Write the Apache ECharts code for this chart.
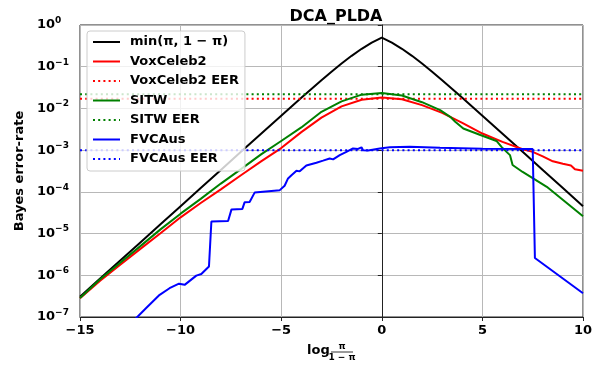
<!DOCTYPE html>
<html>
<head>
<meta charset="utf-8">
<script src="https://cdn.jsdelivr.net/npm/echarts@6/dist/echarts.min.js"></script>
<style>
html,body{margin:0;padding:0;background:#fff;}
#chart{width:598px;height:373px;}
</style>
</head>
<body>
<div id="chart"></div>
<script>
// ---- data ----
const titleText = 'DCA_PLDA';
const yAxisName = 'Bayes error-rate';
const xTickValues = [-15, -10, -5, 0, 5, 10];
const yTickExponents = [0, -1, -2, -3, -4, -5, -6, -7];

const seriesNames = ['min(π, 1 − π)', 'VoxCeleb2', 'VoxCeleb2 EER', 'SITW', 'SITW EER', 'FVCAus', 'FVCAus EER'];

const minX = [-15, -14, -13, -12, -11, -10, -9, -8, -7, -6, -5, -4, -3.5, -3, -2.5, -2, -1.5, -1, -0.5, 0, 0.5, 1, 1.5, 2, 2.5, 3, 3.5, 4, 5, 6, 7, 8, 9, 10];
const minY = [3.06e-7, 8.32e-7, 2.26e-6, 6.14e-6, 1.67e-5, 4.54e-5, 1.234e-4, 3.354e-4, 9.11e-4, 2.473e-3, 6.693e-3, 1.799e-2, 2.931e-2, 4.743e-2, 7.586e-2, 0.1192, 0.1824, 0.2689, 0.3775, 0.5, 0.3775, 0.2689, 0.1824, 0.1192, 7.586e-2, 4.743e-2, 2.931e-2, 1.799e-2, 6.693e-3, 2.473e-3, 9.11e-4, 3.354e-4, 1.234e-4, 4.54e-5];

const voxX = [-15, -14, -13, -12, -11, -10, -9, -8, -7, -6, -5, -4, -3, -2, -1, 0, 1, 2, 3, 4, 5, 6, 7, 7.5, 8, 8.5, 9, 9.4, 9.6, 10];
const voxY = [2.8e-7, 7.4e-7, 1.78e-6, 4.3e-6, 1.02e-5, 2.45e-5, 5.4e-5, 1.15e-4, 2.5e-4, 5.4e-4, 1.12e-3, 2.7e-3, 6.0e-3, 1.12e-2, 1.62e-2, 1.82e-2, 1.66e-2, 1.2e-2, 7.8e-3, 4.5e-3, 2.5e-3, 1.58e-3, 1.05e-3, 9.1e-4, 7.1e-4, 5.4e-4, 4.7e-4, 4.3e-4, 3.5e-4, 3.2e-4];

const sitwX = [-15, -14, -13, -12, -11, -10, -9, -8, -7, -6, -5, -4, -3, -2, -1, 0, 1, 2, 2.9, 3.4, 3.65, 4.05, 4.9, 5.7, 5.95, 6.2, 6.37, 6.5, 7.0, 8.2, 10];
const sitwY = [2.85e-7, 8.0e-7, 2.0e-6, 5.0e-6, 1.26e-5, 3.0e-5, 6.8e-5, 1.58e-4, 3.5e-4, 7.9e-4, 1.66e-3, 3.5e-3, 8.3e-3, 1.48e-2, 2.14e-2, 2.34e-2, 2.04e-2, 1.41e-2, 9.1e-3, 6.3e-3, 4.8e-3, 3.3e-3, 2.3e-3, 1.66e-3, 1.2e-3, 9.1e-4, 7.6e-4, 4.4e-4, 3.0e-4, 1.32e-4, 2.6e-5];

const fvcX = [-12.3, -11.71, -11.04, -10.55, -10.08, -9.80, -9.22, -8.97, -8.59, -8.47, -7.64, -7.47, -6.93, -6.82, -6.57, -6.32, -5.07, -4.83, -4.66, -4.49, -4.24, -4.08, -3.75, -3.25, -2.92, -2.59, -2.42, -2.09, -1.76, -1.43, -1.18, -1.01, -0.93, -0.85, -0.68, -0.10, 0.40, 1.39, 2.89, 5.0, 7.50, 7.61, 10.0];
const fvcY = [8.5e-8, 1.64e-7, 3.4e-7, 4.9e-7, 6.3e-7, 5.9e-7, 9.8e-7, 1.07e-6, 1.62e-6, 1.95e-5, 2.0e-5, 3.8e-5, 3.9e-5, 5.6e-5, 5.7e-5, 9.6e-5, 1.1e-4, 1.4e-4, 2.1e-4, 2.5e-4, 3.2e-4, 3.1e-4, 4.3e-4, 5.0e-4, 5.6e-4, 6.3e-4, 6.0e-4, 7.6e-4, 9.1e-4, 1.1e-3, 1.07e-3, 1.17e-3, 1.0e-3, 9.2e-4, 9.8e-4, 1.1e-3, 1.18e-3, 1.2e-3, 1.14e-3, 1.08e-3, 1.06e-3, 2.6e-6, 3.7e-7];

const eerX = [-15, 10];
const voxEER = 1.7e-2;
const sitwEER = 2.2e-2;
const fvcEER = 1.0e-3;

// ---- build ----
const zip = (xs, ys) => xs.map((x, i) => [x, ys[i]]);
const flat = (xs, v) => xs.map(x => [x, v]);
const FONT = 'DejaVu Sans';

function lineSeries(name, data, color, dotted) {
  return {
    name: name, type: 'line', data: data, showSymbol: false, symbol: 'none',
    clip: true, animation: false,
    lineStyle: { color: color, width: 2, type: dotted ? [2, 3.2] : 'solid', cap: 'butt' },
    itemStyle: { color: color },
    emphasis: { disabled: true }
  };
}

const chart = echarts.init(document.getElementById('chart'), null, { renderer: 'canvas' });
const minus = s => String(s).replace('-', '\u2212');

chart.setOption({
  animation: false,
  backgroundColor: '#ffffff',
  textStyle: { fontFamily: FONT },
  title: {
    text: titleText, left: 331, top: 3, textAlign: 'center',
    textStyle: { fontFamily: FONT, fontSize: 16, fontWeight: 'bold', color: '#000', lineHeight: 18 }
  },
  grid: { left: 80, right: 15, top: 25, bottom: 56, show: true, borderColor: '#222', borderWidth: 1, backgroundColor: 'transparent' },
  xAxis: {
    type: 'value', min: -15, max: 10, interval: 5,
    axisLine: { show: true, onZero: false, lineStyle: { color: '#222', width: 1 } },
    axisTick: { show: true, inside: false, length: 4, lineStyle: { color: '#222' } },
    axisLabel: {
      margin: 7, fontFamily: FONT, fontSize: 13, fontWeight: 'bold', color: '#000',
      formatter: v => xTickValues.includes(v) ? minus(v) : ''
    },
    splitLine: { show: true, lineStyle: { color: '#b8b8b8', width: 1 } }
  },
  yAxis: {
    type: 'log', logBase: 10, min: 1e-7, max: 1,
    name: yAxisName, nameLocation: 'middle', nameGap: 42, nameRotate: 90,
    nameTextStyle: { fontFamily: FONT, fontSize: 13, fontWeight: 'bold', color: '#000' },
    axisLine: { show: true, lineStyle: { color: '#222', width: 1 } },
    axisTick: { show: true, inside: false, length: 4, lineStyle: { color: '#222' } },
    axisLabel: {
      margin: 43, align: 'left', color: '#000',
      formatter: v => {
        const e = Math.round(Math.log10(v));
        if (!yTickExponents.includes(e)) return '';
        return '{b|10}{s|' + minus(e) + '}';
      },
      rich: {
        b: { fontFamily: FONT, fontSize: 13, fontWeight: 'bold', color: '#000', lineHeight: 18 },
        s: { fontFamily: FONT, fontSize: 9, fontWeight: 'bold', color: '#000', lineHeight: 10, verticalAlign: 'top' }
      }
    },
    splitLine: { show: true, lineStyle: { color: '#b8b8b8', width: 1 } }
  },
  legend: {
    show: true, orient: 'vertical', left: 87, top: 31,
    padding: [4, 6, 5, 5], itemWidth: 27, itemHeight: 14, itemGap: 5.5,
    backgroundColor: 'rgba(255,255,255,0.8)', borderColor: '#cccccc', borderWidth: 1, borderRadius: 3,
    textStyle: { fontFamily: FONT, fontSize: 13, fontWeight: 'bold', color: '#000', lineHeight: 14, padding: [0, 0, 0, 5] },
    itemStyle: { color: 'transparent', borderColor: 'transparent', borderWidth: 0, opacity: 0 },
    selectedMode: false,
    data: seriesNames
  },
  graphic: [
    { type: 'text', left: 307, top: 344, style: { text: 'log', font: 'bold 13px "DejaVu Sans"', fill: '#000' } },
    { type: 'text', x: 342, y: 347, style: { text: 'π', font: 'bold 9px "DejaVu Sans"', fill: '#000', align: 'center', verticalAlign: 'middle' } },
    { type: 'line', shape: { x1: 331, y1: 352, x2: 353, y2: 352 }, style: { stroke: '#000', lineWidth: 0.8 } },
    { type: 'text', x: 342, y: 358, style: { text: '1 − π', font: 'bold 9px "DejaVu Sans"', fill: '#000', align: 'center', verticalAlign: 'middle' } }
  ],
  series: [
    lineSeries(seriesNames[0], zip(minX, minY), '#000000', false),
    lineSeries(seriesNames[1], zip(voxX, voxY), '#ff0000', false),
    lineSeries(seriesNames[2], flat(eerX, voxEER), '#ff0000', true),
    lineSeries(seriesNames[3], zip(sitwX, sitwY), '#008000', false),
    lineSeries(seriesNames[4], flat(eerX, sitwEER), '#008000', true),
    lineSeries(seriesNames[5], zip(fvcX, fvcY), '#0000ff', false),
    lineSeries(seriesNames[6], flat(eerX, fvcEER), '#0000ff', true)
  ]
});
</script>
</body>
</html>
